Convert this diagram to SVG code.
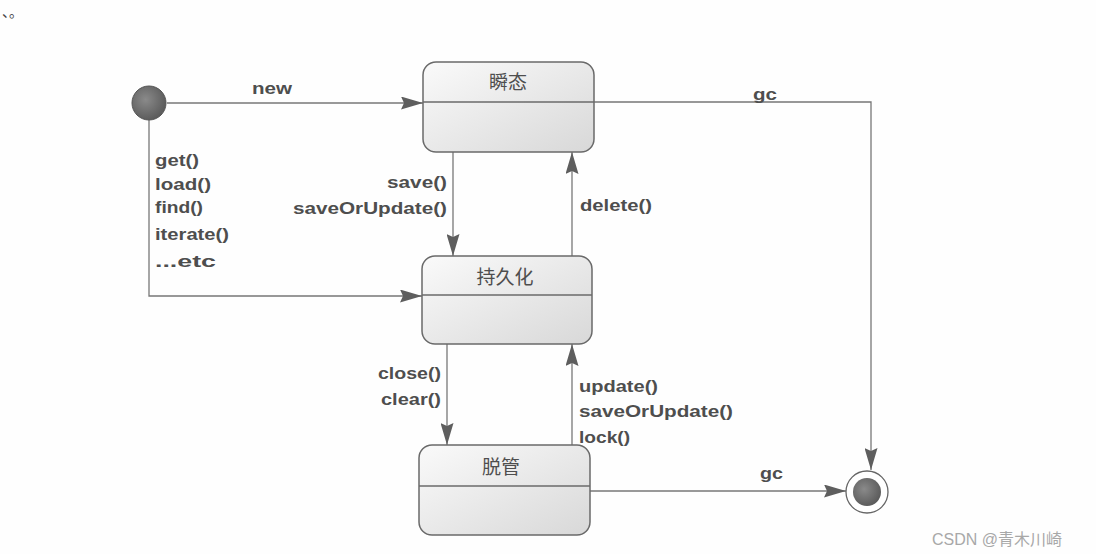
<svg xmlns="http://www.w3.org/2000/svg" width="1096" height="554" viewBox="0 0 1096 554">
<defs>
<linearGradient id="boxg" x1="0" y1="0" x2="1" y2="1"><stop offset="0" stop-color="#fafafa"/><stop offset="1" stop-color="#d8d8d8"/></linearGradient>
<radialGradient id="dot" cx="0.4" cy="0.4" r="0.7"><stop offset="0" stop-color="#8a8a8a"/><stop offset="1" stop-color="#555"/></radialGradient>
<marker id="ah" viewBox="0 0 22 13" refX="22" refY="6.5" markerWidth="22" markerHeight="13" markerUnits="userSpaceOnUse" orient="auto"><path d="M0,0 L22,6.5 L0,13 L3,6.5 Z" fill="#5e5e5e"/></marker>
<style>
.t{font-family:"Liberation Sans",Arial,sans-serif;font-weight:bold;font-size:17px;fill:#4e4e4e}
.c{font-family:"Noto Sans CJK SC",sans-serif;font-size:19px;fill:#4e4e4e}
.box{fill:url(#boxg);stroke:#6a6a6a;stroke-width:1.5}
.div{stroke:#6a6a6a;stroke-width:1.3}
.ln{fill:none;stroke:#777;stroke-width:1.3;marker-end:url(#ah)}
</style>
</defs>
<rect width="1096" height="554" fill="#fefefe"/>
<text x="2" y="17" font-family="Noto Sans CJK SC,sans-serif" font-size="14" fill="#444">、。</text>
<g id="connectors">
<line class="ln" x1="167" y1="103" x2="423" y2="103"/>
<polyline class="ln" points="149,120 149,296 422,296"/>
<line class="ln" x1="453" y1="152" x2="453" y2="256"/>
<line class="ln" x1="572" y1="256" x2="572" y2="152"/>
<line class="ln" x1="447" y1="344" x2="447" y2="445"/>
<line class="ln" x1="572" y1="445" x2="572" y2="344"/>
<polyline class="ln" points="594,102 871,102 871,470"/>
<line class="ln" x1="590" y1="491" x2="846" y2="491"/>
<text class="t" x="252" y="94" textLength="40" lengthAdjust="spacingAndGlyphs">new</text>
<text class="t" x="155" y="166" textLength="44" lengthAdjust="spacingAndGlyphs">get()</text>
<text class="t" x="155" y="190" textLength="56" lengthAdjust="spacingAndGlyphs">load()</text>
<text class="t" x="155" y="213" textLength="48" lengthAdjust="spacingAndGlyphs">find()</text>
<text class="t" x="155" y="240" textLength="74" lengthAdjust="spacingAndGlyphs">iterate()</text>
<text class="t" x="155" y="267" textLength="61" lengthAdjust="spacingAndGlyphs">...etc</text>
<text class="t" x="387" y="188" textLength="60" lengthAdjust="spacingAndGlyphs">save()</text>
<text class="t" x="293" y="214" textLength="154" lengthAdjust="spacingAndGlyphs">saveOrUpdate()</text>
<text class="t" x="580" y="211" textLength="72" lengthAdjust="spacingAndGlyphs">delete()</text>
<text class="t" x="378" y="379" textLength="63" lengthAdjust="spacingAndGlyphs">close()</text>
<text class="t" x="381" y="405" textLength="60" lengthAdjust="spacingAndGlyphs">clear()</text>
<text class="t" x="579" y="392" textLength="79" lengthAdjust="spacingAndGlyphs">update()</text>
<text class="t" x="579" y="417" textLength="154" lengthAdjust="spacingAndGlyphs">saveOrUpdate()</text>
<text class="t" x="579" y="443" textLength="51" lengthAdjust="spacingAndGlyphs">lock()</text>
<text class="t" x="753" y="100" textLength="24" lengthAdjust="spacingAndGlyphs">gc</text>
<text class="t" x="760" y="479" textLength="23" lengthAdjust="spacingAndGlyphs">gc</text>
</g>
<g id="start"><circle cx="149" cy="103" r="17" fill="url(#dot)" stroke="#555" stroke-width="1"/></g>
<g id="transient">
<rect class="box" x="423" y="62" width="171" height="90" rx="13"/>
<line class="div" x1="423" y1="102" x2="594" y2="102"/>
<text class="c" x="508" y="89" text-anchor="middle">瞬态</text>
</g>
<g id="persistent">
<rect class="box" x="422" y="256" width="170" height="88" rx="13"/>
<line class="div" x1="422" y1="295" x2="592" y2="295"/>
<text class="c" x="505" y="284" text-anchor="middle">持久化</text>
</g>
<g id="detached">
<rect class="box" x="419" y="445" width="171" height="90" rx="13"/>
<line class="div" x1="419" y1="486" x2="590" y2="486"/>
<text class="c" x="501" y="474" text-anchor="middle">脱管</text>
</g>
<g id="end">
<circle cx="867" cy="492" r="21" fill="#fff" stroke="#666" stroke-width="1.3"/>
<circle cx="867" cy="492" r="14" fill="url(#dot)"/>
</g>
<text x="932" y="545" font-family="Liberation Sans,Noto Sans CJK SC,sans-serif" font-size="16" fill="#a8a8a8">CSDN @青木川崎</text>
</svg>
